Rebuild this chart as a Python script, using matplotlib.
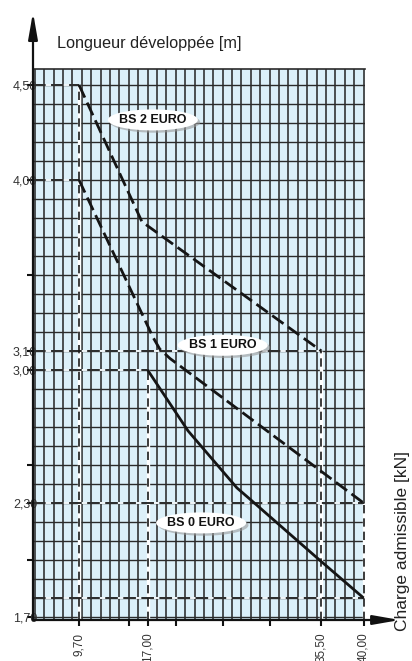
import matplotlib
matplotlib.use("Agg")
import matplotlib.pyplot as plt
from matplotlib.patches import Ellipse
import numpy as np

plt.rcParams.update({"font.family": ["Liberation Sans", "DejaVu Sans"]})

# ---- data ----
BS2_X = [9.7, 16.4, 35.5]
BS2_Y = [4.50, 3.78, 3.10]
BS1_X = [9.7, 17.6, 18.3, 19.4, 40.0]
BS1_Y = [4.00, 3.17, 3.11, 3.06, 2.30]
BS0_X = [17.0, 21.3, 26.5, 27.9, 35.3, 40.0]
BS0_Y = [3.00, 2.68, 2.38, 2.32, 2.00, 1.80]

# reference points picked out with dashed guides
REF_X = [9.7, 9.7, 17.0, 35.5, 40.0, 40.0]
REF_Y = [4.50, 4.00, 3.00, 3.10, 2.30, 1.80]

XTICKS = [9.7, 15, 17.0, 20, 25, 30, 35.5, 40.0]
XTICKLABELS = ["9,70", "", "17,00", "", "", "", "35,50", "40,00"]
YTICKS = [1.70, 2.0, 2.30, 2.5, 3.00, 3.10, 3.5, 4.00, 4.50]
YTICKLABELS = ["1,70", "", "2,30", "", "3,00", "3,10", "", "4,00", "4,50"]

LABELS = ["BS 2 EURO", "BS 1 EURO", "BS 0 EURO"]
LABEL_X = [17.56, 25.0, 22.7]
LABEL_Y = [4.316, 3.13, 2.195]

XMIN, XMAX = 4.8, 40.15
YMIN, YMAX = 1.684, 4.584

W, H = 412, 661
fig = plt.figure(figsize=(W / 100, H / 100), dpi=100)
ax = fig.add_axes([33 / W, 41 / H, 332 / W, 551 / H])
ax.set_xlim(XMIN, XMAX)
ax.set_ylim(YMIN, YMAX)
ax.set_facecolor("#dcf0f9")

grid_c = "#2b2b2b"
ax.vlines(np.arange(5, 41), YMIN, YMAX, color=grid_c, lw=1.15, zorder=1)
ax.hlines(np.round(np.arange(1.7, 4.55, 0.1), 2), XMIN, XMAX,
          color=grid_c, lw=1.0, zorder=1)

# dashed guides: light stripe under a dark dashed line
for rx, ry in zip(REF_X, REF_Y):
    ax.plot([XMIN, rx], [ry, ry], color="#f2f8fb", lw=1.4, zorder=2,
            solid_capstyle="butt")
    ax.plot([XMIN, rx], [ry, ry], color="#1a1a1a", lw=1.3, zorder=3,
            dashes=(7, 3))
for rx in sorted(set(REF_X)):
    top = max(y for x, y in zip(REF_X, REF_Y) if x == rx)
    ax.plot([rx, rx], [YMIN, top], color="white", lw=2.4, zorder=2,
            solid_capstyle="butt")
    ax.plot([rx, rx], [YMIN, top], color="#1a1a1a", lw=1.2, zorder=3,
            dashes=(5, 3))

# curves
ax.plot(BS2_X, BS2_Y, color="#151515", lw=2.0, dashes=(5, 2), zorder=4)
ax.plot(BS1_X, BS1_Y, color="#151515", lw=2.0, dashes=(5, 2), zorder=4)
ax.plot(BS0_X, BS0_Y, color="#151515", lw=2.0, zorder=4,
        solid_capstyle="butt")

# label ellipses
ew, eh = 90 / 9.39, 21 / 190
for t, lx, ly in zip(LABELS, LABEL_X, LABEL_Y):
    ax.add_patch(Ellipse((lx + 0.25, ly - 0.012), ew, eh, color="#9a9a9a",
                         alpha=0.6, zorder=5, lw=0))
    ax.add_patch(Ellipse((lx, ly), ew, eh, facecolor="white",
                         edgecolor="none", zorder=6))
    ax.text(lx, ly, t, ha="center", va="center", fontsize=9,
            fontweight="bold", color="#111111", zorder=7)

# axes
for s in ("left", "bottom", "right"):
    ax.spines[s].set_visible(False)
ax.spines["top"].set_color(grid_c)
ax.spines["top"].set_linewidth(1.2)

arrow = dict(arrowstyle="-|>,head_length=1.6,head_width=0.28",
             lw=1.6, color="#111111", mutation_scale=10, shrinkA=0, shrinkB=0)
ax.annotate("", xy=(0, 1.103), xytext=(0, 0), xycoords="axes fraction",
            arrowprops=arrow, annotation_clip=False, zorder=10)
ax.annotate("", xy=(1.105, 0), xytext=(0, 0), xycoords="axes fraction",
            arrowprops=arrow, annotation_clip=False, zorder=10)

ax.set_xticks(XTICKS)
ax.set_xticklabels(XTICKLABELS, rotation=90, fontsize=8.5, color="#333333")
ax.set_yticks(YTICKS)
ax.set_yticklabels(YTICKLABELS, fontsize=9, color="#333333")
ax.tick_params(axis="x", length=4, width=1.5, color="#111111", pad=5)
ax.tick_params(axis="y", length=4, width=1.5, color="#111111", pad=-7)

fig.text(57 / W, 1 - 48 / H, "Longueur développée [m]", fontsize=11.7,
         color="#222222", ha="left", va="baseline")
fig.text(403 / W, 1 - 631 / H, "Charge admissible [kN]", fontsize=12.5,
         color="#222222", rotation=90, ha="center", va="bottom")

fig.savefig("out.png", dpi=100)
